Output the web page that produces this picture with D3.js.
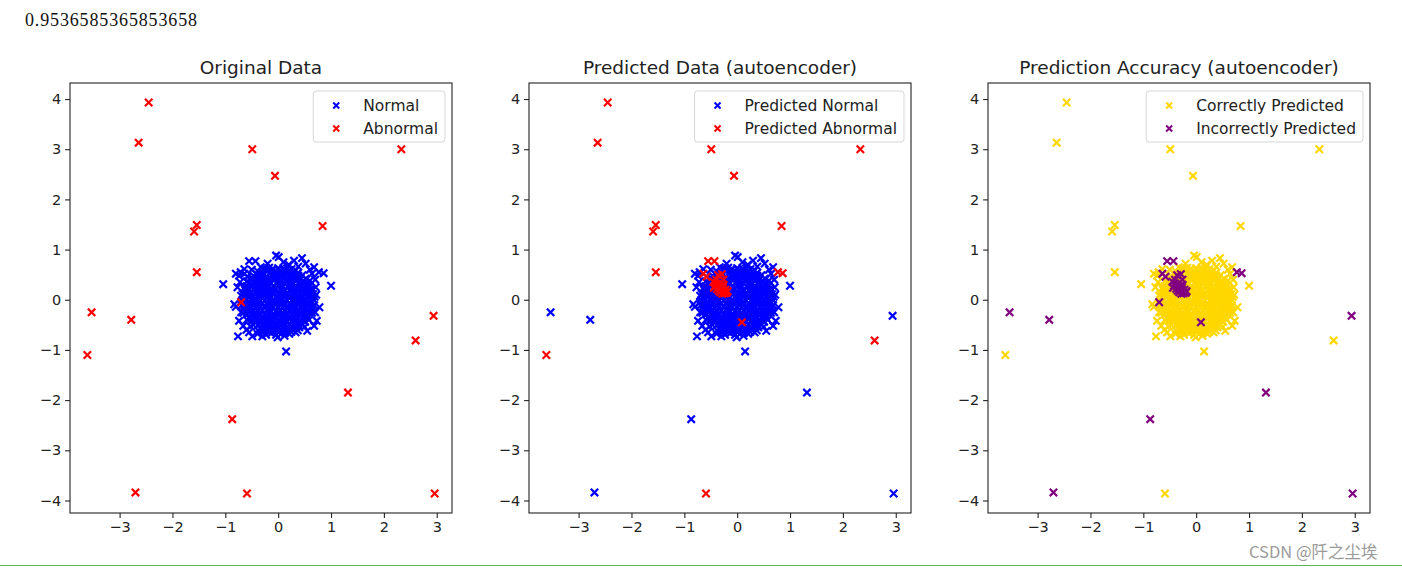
<!DOCTYPE html>
<html>
<head>
<meta charset="utf-8">
<script src="https://cdnjs.cloudflare.com/ajax/libs/d3/7.8.5/d3.min.js"></script>
<style>
body { margin: 0; background: #fff; }
svg text { font-family: "DejaVu Sans", sans-serif; fill: #222; }
</style>
</head>
<body>
<div id="chart"></div>
<script>
var accuracy = "0.9536585365853658";
var titles = ["Original Data", "Predicted Data (autoencoder)", "Prediction Accuracy (autoencoder)"];
var legendLabels = [["Normal", "Abnormal"], ["Predicted Normal", "Predicted Abnormal"], ["Correctly Predicted", "Incorrectly Predicted"]];
var legendColors = [["#0000ff", "#ff0000"], ["#0000ff", "#ff0000"], ["#ffd700", "#800080"]];
var xTicks = [-3, -2, -1, 0, 1, 2, 3];
var yTicks = [-4, -3, -2, -1, 0, 1, 2, 3, 4];

// true normal, predicted normal
var normalCorrect = [
  [-0.26,0.62],[-0.17,0.64],[-0.09,0.61],[0.0,0.63],[0.09,0.60],[0.17,0.63],[0.25,0.61],
  [-0.38,0.56],[-0.30,0.54],[-0.21,0.57],[-0.13,0.55],[-0.04,0.53],[0.05,0.56],[0.13,0.54],[0.22,0.57],[0.30,0.55],[0.37,0.53],
  [-0.46,0.47],[-0.39,0.49],[-0.29,0.48],[-0.22,0.46],[-0.12,0.49],[-0.05,0.47],[0.04,0.50],[0.12,0.47],[0.21,0.49],[0.29,0.46],[0.38,0.48],[0.46,0.49],
  [-0.52,0.40],[-0.42,0.42],[-0.35,0.41],[-0.25,0.39],[-0.17,0.42],[-0.08,0.40],[0.01,0.41],[0.09,0.43],[0.18,0.40],[0.25,0.42],[0.35,0.39],[0.43,0.41],[0.52,0.42],
  [-0.56,0.33],[-0.46,0.35],[-0.38,0.34],[-0.31,0.32],[-0.20,0.35],[-0.13,0.33],[-0.03,0.34],[0.05,0.36],[0.12,0.33],[0.22,0.35],[0.29,0.32],[0.39,0.34],[0.47,0.36],[0.55,0.33],
  [-0.60,0.27],[-0.52,0.28],[-0.42,0.26],[-0.35,0.28],[-0.25,0.25],[-0.18,0.28],[-0.08,0.26],[0.01,0.28],[0.08,0.25],[0.18,0.27],[0.25,0.29],[0.35,0.26],[0.42,0.28],[0.52,0.25],[0.59,0.27],
  [-0.63,0.20],[-0.56,0.19],[-0.46,0.21],[-0.39,0.19],[-0.29,0.21],[-0.22,0.18],[-0.12,0.20],[-0.05,0.22],[0.05,0.19],[0.12,0.21],[0.22,0.18],[0.29,0.20],[0.39,0.22],[0.46,0.19],[0.56,0.21],[0.62,0.19],
  [-0.67,0.12],[-0.59,0.14],[-0.52,0.12],[-0.42,0.13],[-0.35,0.11],[-0.25,0.14],[-0.18,0.12],[-0.08,0.13],[0.0,0.11],[0.09,0.14],[0.17,0.12],[0.26,0.13],[0.34,0.11],[0.43,0.14],[0.51,0.12],[0.60,0.13],[0.66,0.11],
  [-0.65,0.05],[-0.55,0.07],[-0.47,0.05],[-0.38,0.06],[-0.30,0.04],[-0.21,0.07],[-0.13,0.05],[-0.04,0.06],[0.05,0.04],[0.13,0.07],[0.21,0.05],[0.30,0.06],[0.38,0.04],[0.47,0.07],[0.55,0.05],[0.64,0.06],
  [-0.68,-0.01],[-0.60,0.0],[-0.51,-0.02],[-0.43,0.0],[-0.34,-0.01],[-0.26,-0.02],[-0.17,0.0],[-0.09,-0.01],[0.0,-0.02],[0.09,0.0],[0.17,-0.01],[0.26,-0.02],[0.34,0.01],[0.43,-0.01],[0.51,0.0],[0.60,-0.02],[0.67,0.0],
  [-0.64,-0.08],[-0.55,-0.09],[-0.47,-0.07],[-0.38,-0.09],[-0.30,-0.08],[-0.21,-0.06],[-0.13,-0.09],[-0.04,-0.08],[0.04,-0.07],[0.13,-0.09],[0.21,-0.08],[0.30,-0.10],[0.38,-0.07],[0.47,-0.08],[0.55,-0.09],[0.64,-0.07],
  [-0.66,-0.15],[-0.59,-0.16],[-0.51,-0.14],[-0.43,-0.16],[-0.34,-0.15],[-0.26,-0.13],[-0.17,-0.16],[-0.09,-0.15],[0.0,-0.14],[0.09,-0.16],[0.17,-0.15],[0.26,-0.13],[0.34,-0.16],[0.43,-0.15],[0.51,-0.14],[0.59,-0.16],[0.65,-0.14],
  [-0.62,-0.22],[-0.55,-0.23],[-0.47,-0.21],[-0.38,-0.23],[-0.30,-0.22],[-0.21,-0.20],[-0.13,-0.23],[-0.04,-0.22],[0.04,-0.21],[0.13,-0.23],[0.21,-0.22],[0.30,-0.20],[0.38,-0.23],[0.47,-0.22],[0.55,-0.21],[0.62,-0.23],
  [-0.59,-0.29],[-0.51,-0.30],[-0.43,-0.28],[-0.34,-0.30],[-0.26,-0.29],[-0.17,-0.27],[-0.09,-0.30],[0.0,-0.29],[0.09,-0.28],[0.17,-0.30],[0.26,-0.29],[0.34,-0.27],[0.43,-0.30],[0.51,-0.29],[0.59,-0.28],
  [-0.55,-0.36],[-0.47,-0.37],[-0.38,-0.35],[-0.30,-0.37],[-0.21,-0.36],[-0.13,-0.34],[-0.04,-0.37],[0.04,-0.36],[0.13,-0.35],[0.21,-0.37],[0.30,-0.36],[0.38,-0.34],[0.47,-0.37],[0.55,-0.35],
  [-0.51,-0.43],[-0.43,-0.44],[-0.34,-0.42],[-0.26,-0.44],[-0.17,-0.43],[-0.09,-0.41],[0.0,-0.44],[0.09,-0.43],[0.17,-0.42],[0.26,-0.44],[0.34,-0.43],[0.43,-0.41],[0.51,-0.44],
  [-0.47,-0.50],[-0.38,-0.51],[-0.30,-0.49],[-0.21,-0.51],[-0.13,-0.50],[-0.04,-0.48],[0.04,-0.51],[0.13,-0.50],[0.21,-0.49],[0.30,-0.51],[0.38,-0.50],[0.46,-0.49],
  [-0.34,-0.57],[-0.26,-0.58],[-0.17,-0.56],[-0.09,-0.58],[0.0,-0.57],[0.09,-0.55],[0.17,-0.58],[0.26,-0.57],[0.34,-0.56],
  [-0.26,-0.63],[-0.17,-0.64],[-0.08,-0.62],[0.01,-0.64],[0.09,-0.63],[0.17,-0.61],[0.25,-0.64],
  [-0.21,0.60],[0.04,0.58],[0.33,0.59],[-0.42,0.52],[0.42,0.44],[-0.59,0.37],[0.60,0.38],[-0.64,0.24],[0.63,0.23],[-0.70,0.08],
  [0.69,0.06],[-0.69,-0.11],[0.68,-0.11],[-0.66,-0.26],[0.64,-0.26],[-0.59,-0.40],[0.58,-0.40],[-0.52,-0.53],[0.50,-0.54],[-0.38,-0.61],
  [0.37,-0.61],[-0.13,-0.67],[0.13,-0.66],[-0.34,0.08],[0.08,-0.33],[0.30,0.14],[-0.14,-0.40],[0.36,-0.21],[-0.47,-0.30],[0.20,0.45],
  [-0.13,0.59],[0.13,0.60],[-0.34,0.51],[0.26,0.51],[-0.50,0.44],[0.34,0.45],[-0.08,0.45],[-0.30,0.37],[0.16,0.37],[0.43,0.31],
  [-0.51,0.31],[0.03,0.31],[0.56,0.29],[-0.13,0.23],[0.33,0.23],[-0.51,0.16],[0.08,0.17],[0.52,0.17],[-0.60,0.09],[-0.17,0.09],
  [0.21,0.09],[0.60,0.09],[-0.43,0.03],[0.00,0.03],[0.43,0.03],[-0.56,-0.04],[-0.13,-0.04],[0.30,-0.03],[0.56,-0.04],[-0.38,-0.12],
  [0.05,-0.11],[0.47,-0.12],[-0.60,-0.19],[-0.17,-0.19],[0.26,-0.18],[-0.43,-0.25],[0.00,-0.25],[0.43,-0.26],[-0.21,-0.32],[0.21,-0.33],
  [0.55,-0.31],[-0.42,-0.39],[0.00,-0.40],[0.34,-0.39],[-0.26,-0.47],[0.09,-0.47],[0.43,-0.47],[-0.13,-0.54],[0.26,-0.53],[-0.04,-0.60],
  [-1.04,0.31],[1.00,0.28],[0.15,-1.03],[-0.76,-0.73],[-0.04,0.88],[0.01,0.85],[0.30,0.78],[0.45,0.83],[0.52,0.72],[0.68,0.65],
  [0.60,0.60],[-0.71,0.55],[-0.80,0.52],[-0.64,0.61],[-0.74,0.48],[-0.72,0.35],[-0.77,0.25],[-0.83,-0.09],[-0.80,-0.14],[-0.70,-0.25],
  [-0.74,-0.42],[-0.66,-0.52],[-0.60,-0.60],[-0.49,-0.73],[-0.39,-0.68],[-0.30,-0.73],[-0.23,-0.70],[-0.04,-0.70],[-0.01,-0.75],[0.21,-0.68],
  [0.33,-0.65],[0.40,-0.55],[0.68,-0.52],[0.73,-0.42],[0.70,-0.25],[0.78,-0.15],[0.72,0.10],[0.71,0.25],[0.70,0.40],[0.64,0.52],
  [0.38,0.66],[0.20,0.70],[-0.20,0.72],[-0.33,0.65],[0.10,0.75],[-0.50,0.60],[0.55,-0.62],[-0.55,-0.65],[0.12,-0.72]
];

// true normal, predicted abnormal
var normalMissed = [
  [-0.45,0.36],[-0.40,0.33],[-0.42,0.28],[-0.36,0.30],[-0.33,0.25],[-0.38,0.22],[-0.30,0.20],[-0.27,0.24],[-0.25,0.17],[-0.32,0.15],
  [-0.22,0.20],[-0.20,0.14],[-0.28,0.12],[-0.35,0.18],[-0.24,0.13],[-0.18,0.17],[-0.40,0.40],[-0.30,0.28],[-0.26,0.30],[-0.44,0.24],
  [-0.64,0.52],[-0.58,0.46],[-0.36,0.49],[-0.29,0.51],[-0.55,0.77],[-0.43,0.77],[0.77,0.55],[0.86,0.53],[0.09,-0.45],[-0.26,0.40]
];

// x, y, predicted abnormal (1) or predicted normal (0)
var abnormalPts = [
  [-2.45,3.93,1],[-2.64,3.13,1],[-0.49,3.00,1],[-0.06,2.47,1],[2.33,3.00,1],
  [-1.54,1.49,1],[-1.59,1.36,1],[0.84,1.47,1],[-1.54,0.55,1],[-3.53,-0.25,0],
  [-2.78,-0.40,0],[-3.61,-1.10,1],[-0.70,-0.05,0],[2.94,-0.32,0],[2.60,-0.81,1],
  [1.32,-1.85,0],[-0.87,-2.38,0],[-2.70,-3.84,0],[-0.59,-3.86,1],[2.96,-3.86,0]
];

var width = 1402, height = 571;
var plotW = 382, plotH = 430, plotTop = 83;
var plotLefts = [70, 529, 988];

var svg = d3.select("#chart").append("svg")
    .attr("width", width)
    .attr("height", height);

svg.append("text")
    .attr("x", 25).attr("y", 26)
    .attr("textLength", 172).attr("lengthAdjust", "spacing")
    .style("font-family", "'Liberation Serif', serif")
    .style("font-size", "18px")
    .style("fill", "#111")
    .text(accuracy);

var allPts = normalCorrect.concat(normalMissed, abnormalPts);
var xExt = d3.extent(allPts, function(d) { return d[0]; }),
    yExt = d3.extent(allPts, function(d) { return d[1]; });
var xPad = (xExt[1] - xExt[0]) * 0.05, yPad = (yExt[1] - yExt[0]) * 0.05;

var predNormalAbn = abnormalPts.filter(function(d) { return d[2] === 0; }),
    predAbnAbn = abnormalPts.filter(function(d) { return d[2] === 1; });

// series per panel, drawn in order
var panels = [
  [normalCorrect.concat(normalMissed), abnormalPts],
  [normalCorrect.concat(predNormalAbn), normalMissed.concat(predAbnAbn)],
  [normalCorrect.concat(predAbnAbn), normalMissed.concat(predNormalAbn)]
];

function cross(h) {
  return "M" + (-h) + "," + (-h) + "L" + h + "," + h + "M" + (-h) + "," + h + "L" + h + "," + (-h);
}

function fmt(d) { return d < 0 ? "\u2212" + Math.abs(d) : "" + d; }

panels.forEach(function(series, i) {
  var x = d3.scaleLinear()
    .domain([xExt[0] - xPad, xExt[1] + xPad])
    .range([0, plotW]);
  var y = d3.scaleLinear()
    .domain([yExt[0] - yPad, yExt[1] + yPad])
    .range([plotH, 0]);

  var g = svg.append("g")
    .attr("transform", "translate(" + plotLefts[i] + "," + plotTop + ")");

  var xAxis = d3.axisBottom(x).tickValues(xTicks).tickSize(4.9).tickPadding(4).tickFormat(fmt);
  var yAxis = d3.axisLeft(y).tickValues(yTicks).tickSize(4.9).tickPadding(4).tickFormat(fmt);

  var gx = g.append("g")
    .attr("transform", "translate(0," + plotH + ")")
    .call(xAxis);
  var gy = g.append("g").call(yAxis);
  [gx, gy].forEach(function(a) {
    a.select(".domain").remove();
    a.selectAll("line").attr("stroke", "#222").attr("stroke-width", 1.1);
    a.selectAll("text").style("font-size", "14.5px").style("font-family", "'DejaVu Sans', sans-serif").attr("fill", "#222");
  });

  g.append("clipPath").attr("id", "clip" + i)
    .append("rect").attr("width", plotW).attr("height", plotH);

  series.forEach(function(pts, s) {
    g.append("g")
      .attr("clip-path", "url(#clip" + i + ")")
      .selectAll("path")
      .data(pts)
      .enter().append("path")
      .attr("d", cross(3.7))
      .attr("transform", function(d) { return "translate(" + x(d[0]) + "," + y(d[1]) + ")"; })
      .attr("fill", "none")
      .attr("stroke", legendColors[i][s])
      .attr("stroke-width", 2.2);
  });

  g.append("rect")
    .attr("width", plotW).attr("height", plotH)
    .attr("fill", "none").attr("stroke", "#222").attr("stroke-width", 1.1);

  g.append("text")
    .attr("x", plotW / 2).attr("y", -9)
    .attr("text-anchor", "middle")
    .style("font-size", "18.5px")
    .text(titles[i]);

  // legend
  var lg = g.append("g");
  var box = lg.append("rect")
    .attr("rx", 3).attr("ry", 3)
    .attr("fill", "#fff").attr("fill-opacity", 0.8)
    .attr("stroke", "#d6d6d6").attr("stroke-width", 1);
  var maxW = 0;
  legendLabels[i].forEach(function(lbl, k) {
    lg.append("path")
      .attr("d", cross(3))
      .attr("transform", "translate(23," + (14.5 + k * 23) + ")")
      .attr("fill", "none")
      .attr("stroke", legendColors[i][k])
      .attr("stroke-width", 2);
    var t = lg.append("text")
      .attr("x", 50).attr("y", 19.5 + k * 23)
      .style("font-size", "15.5px")
      .text(lbl);
    maxW = Math.max(maxW, t.node().getComputedTextLength());
  });
  var boxW = 50 + maxW + 7;
  box.attr("width", boxW).attr("height", 51);
  lg.attr("transform", "translate(" + (plotW - 7 - boxW) + ",8)");
});

svg.append("text")
    .attr("x", 1249).attr("y", 558)
    .style("font-family", "'Noto Sans CJK SC', sans-serif")
    .style("font-size", "16.5px")
    .style("fill", "#9a9a9a")
    .text("CSDN @阡之尘埃");

svg.append("line")
    .attr("x1", 0).attr("x2", width)
    .attr("y1", 565.5).attr("y2", 565.5)
    .attr("stroke", "#5cb85c").attr("stroke-width", 1);
</script>
</body>
</html>
